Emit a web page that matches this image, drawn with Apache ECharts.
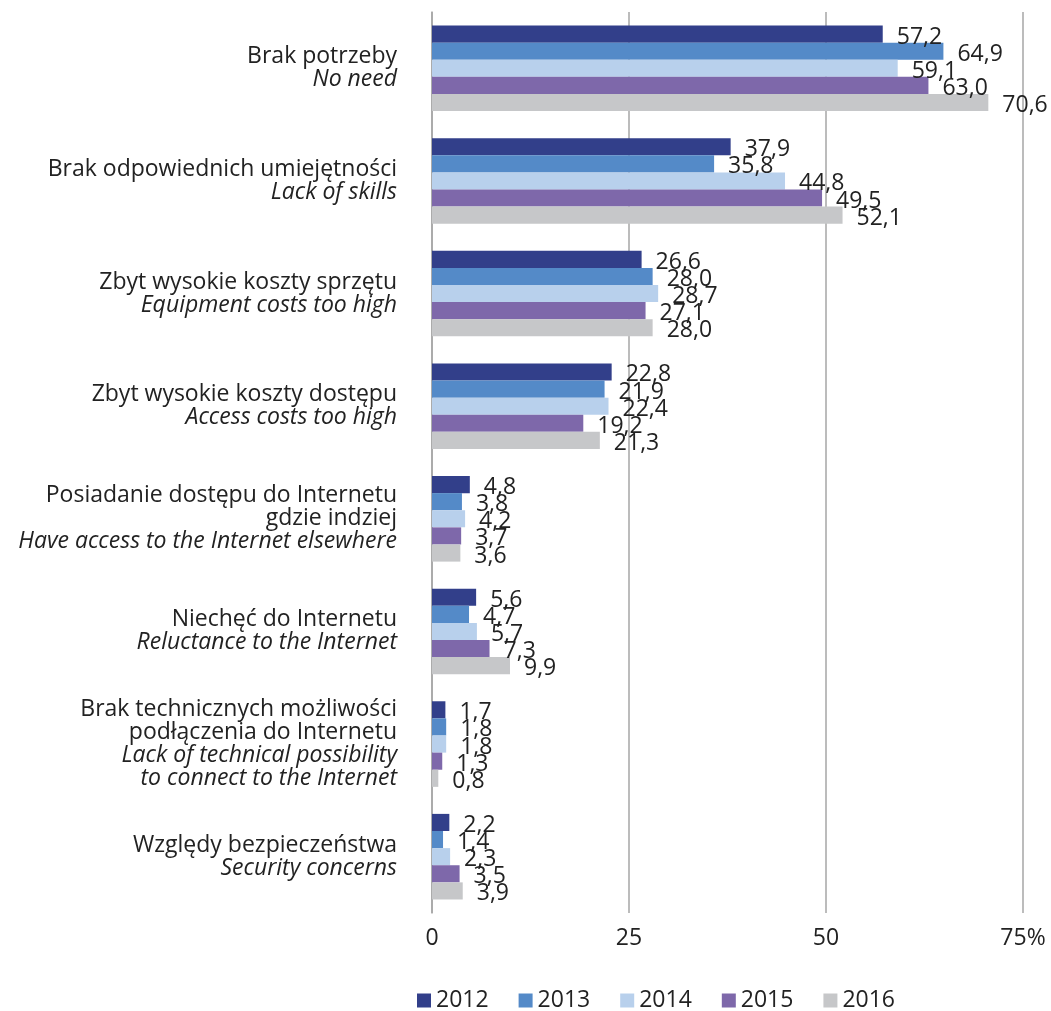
<!DOCTYPE html>
<html>
<head>
<meta charset="utf-8">
<script src="https://cdn.jsdelivr.net/npm/echarts@6/dist/echarts.min.js"></script>
<style>
  html, body { margin: 0; padding: 0; background: #fff; }
  #chart { width: 1051px; height: 1011px; }
</style>
</head>
<body>
<div id="chart"></div>
<script>
// kategorie: linie polskie i angielskie (kursywa)
const categoriesPl = [
  "Brak potrzeby",
  "Brak odpowiednich umiejętności",
  "Zbyt wysokie koszty sprzętu",
  "Zbyt wysokie koszty dostępu",
  "Posiadanie dostępu do Internetu\ngdzie indziej",
  "Niechęć do Internetu",
  "Brak technicznych możliwości\npodłączenia do Internetu",
  "Względy bezpieczeństwa"
];
const categoriesEn = [
  "No need",
  "Lack of skills",
  "Equipment costs too high",
  "Access costs too high",
  "Have access to the Internet elsewhere",
  "Reluctance to the Internet",
  "Lack of technical possibility\nto connect to the Internet",
  "Security concerns"
];
const years = ["2012", "2013", "2014", "2015", "2016"];
const values2012 = [57.2, 37.9, 26.6, 22.8, 4.8, 5.6, 1.7, 2.2];
const values2013 = [64.9, 35.8, 28.0, 21.9, 3.8, 4.7, 1.8, 1.4];
const values2014 = [59.1, 44.8, 28.7, 22.4, 4.2, 5.7, 1.8, 2.3];
const values2015 = [63.0, 49.5, 27.1, 19.2, 3.7, 7.3, 1.3, 3.5];
const values2016 = [70.6, 52.1, 28.0, 21.3, 3.6, 9.9, 0.8, 3.9];
const xTicks = [0, 25, 50, 75];

const colors = ["#323f8a", "#548ac8", "#b8d0ec", "#7e68aa", "#c6c7c9"];
const allValues = [values2012, values2013, values2014, values2015, values2016];
const font = "'Open Sans', 'Noto Sans', sans-serif";
const fs = 23;

// etykiety osi Y: tekst polski zwykły + angielski kursywą
const catLabels = categoriesPl.map((pl, i) => {
  const plPart = pl.split("\n").map((l) => "{n|" + l + "}").join("\n");
  const enPart = categoriesEn[i].split("\n").map((l) => "{i|" + l + "}").join("\n");
  return plPart + "\n" + enPart;
});

const chart = echarts.init(document.getElementById("chart"));
const option = {
  animation: false,
  color: colors,
  textStyle: { fontFamily: font },
  grid: { left: 432, right: 28, top: 12, bottom: 98, containLabel: false },
  legend: {
    data: years,
    left: 412,
    top: 984,
    itemWidth: 14,
    itemHeight: 14,
    itemGap: 30,
    icon: "rect",
    textStyle: { fontSize: fs, color: "#222", fontFamily: font }
  },
  xAxis: {
    type: "value",
    min: 0,
    max: 75,
    interval: 25,
    axisLine: { show: false },
    axisTick: { show: false },
    splitLine: { show: true, lineStyle: { color: "#a6a6a6", width: 1.5 } },
    axisLabel: {
      fontSize: fs,
      color: "#222",
      margin: 14,
      formatter: (v) => (v === xTicks[xTicks.length - 1] ? v + "%" : String(v))
    }
  },
  yAxis: {
    type: "category",
    inverse: true,
    data: catLabels,
    axisLine: { show: true, lineStyle: { color: "#a6a6a6", width: 1.5 } },
    axisTick: { show: false },
    axisLabel: {
      margin: 35,
      align: "right",
      rich: {
        n: { fontSize: fs, color: "#222", lineHeight: 23, align: "right", fontFamily: font },
        i: { fontSize: fs, color: "#222", lineHeight: 23, align: "right", fontStyle: "italic", fontFamily: font }
      }
    }
  },
  series: years.map((y, k) => ({
    name: y,
    type: "bar",
    data: allValues[k],
    barGap: "0%",
    barCategoryGap: "24%",
    label: {
      show: true,
      position: "right",
      distance: 14,
      offset: [0, 3],
      fontSize: fs,
      color: "#222",
      fontFamily: font,
      formatter: (p) => p.value.toFixed(1).replace(".", ",")
    }
  }))
};
chart.setOption(option);
</script>
</body>
</html>
